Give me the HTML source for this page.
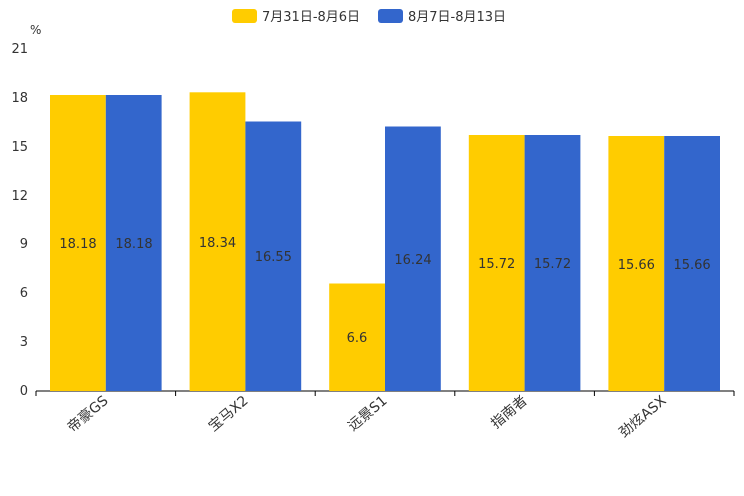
<!DOCTYPE html><html><head><meta charset="utf-8"><style>body{margin:0;background:#fff}svg{display:block}text{font-family:"DejaVu Sans","Noto Sans CJK SC",sans-serif}</style></head><body>
<svg width="744" height="496" xmlns="http://www.w3.org/2000/svg">
<rect x="232" y="9" width="25" height="14" rx="3" fill="#ffcc00"/><text x="262" y="21" font-size="13" fill="#333">7月31日-8月6日</text>
<rect x="378" y="9" width="25" height="14" rx="3" fill="#3366cc"/><text x="408" y="21" font-size="13" fill="#333">8月7日-8月13日</text>
<text x="30" y="34" font-size="12" fill="#333">%</text>
<g font-size="13" fill="#333" text-anchor="end">
<text x="28" y="395">0</text><text x="28" y="346">3</text><text x="28" y="297">6</text><text x="28" y="248">9</text><text x="28" y="200">12</text><text x="28" y="151">15</text><text x="28" y="102">18</text><text x="28" y="53">21</text></g>
<line x1="36" y1="391" x2="734" y2="391" stroke="#000"/>
<g stroke="#000"><line x1="36" y1="391" x2="36" y2="396"/><line x1="175.6" y1="391" x2="175.6" y2="396"/><line x1="315.2" y1="391" x2="315.2" y2="396"/><line x1="454.8" y1="391" x2="454.8" y2="396"/><line x1="594.4" y1="391" x2="594.4" y2="396"/><line x1="734" y1="391" x2="734" y2="396"/></g>
<g font-size="14" fill="#333" text-anchor="end">
<text transform="translate(109,402) rotate(-40)">帝豪GS</text>
<text transform="translate(249,402) rotate(-40)">宝马X2</text>
<text transform="translate(388,402) rotate(-40)">远景S1</text>
<text transform="translate(528,402) rotate(-40)">指南者</text>
<text transform="translate(667,402) rotate(-40)">劲炫ASX</text>
</g>
<g font-size="13" fill="#333" text-anchor="middle">
<rect x="50" y="95" width="55.8" height="296" fill="#ffcc00"/><rect x="105.8" y="95" width="55.8" height="296" fill="#3366cc"/>
<text x="78" y="248">18.18</text><text x="134" y="248">18.18</text>
<rect x="189.6" y="92.3" width="55.8" height="298.7" fill="#ffcc00"/><rect x="245.4" y="121.5" width="55.8" height="269.5" fill="#3366cc"/>
<text x="217.5" y="247">18.34</text><text x="273.3" y="261">16.55</text>
<rect x="329.2" y="283.5" width="55.8" height="107.5" fill="#ffcc00"/><rect x="385" y="126.5" width="55.8" height="264.5" fill="#3366cc"/>
<text x="357" y="342">6.6</text><text x="413" y="264">16.24</text>
<rect x="468.8" y="135" width="55.8" height="256" fill="#ffcc00"/><rect x="524.6" y="135" width="55.8" height="256" fill="#3366cc"/>
<text x="496.7" y="268">15.72</text><text x="552.5" y="268">15.72</text>
<rect x="608.4" y="136" width="55.8" height="255" fill="#ffcc00"/><rect x="664.2" y="136" width="55.8" height="255" fill="#3366cc"/>
<text x="636.3" y="269">15.66</text><text x="692.1" y="269">15.66</text>
</g>
</svg></body></html>
